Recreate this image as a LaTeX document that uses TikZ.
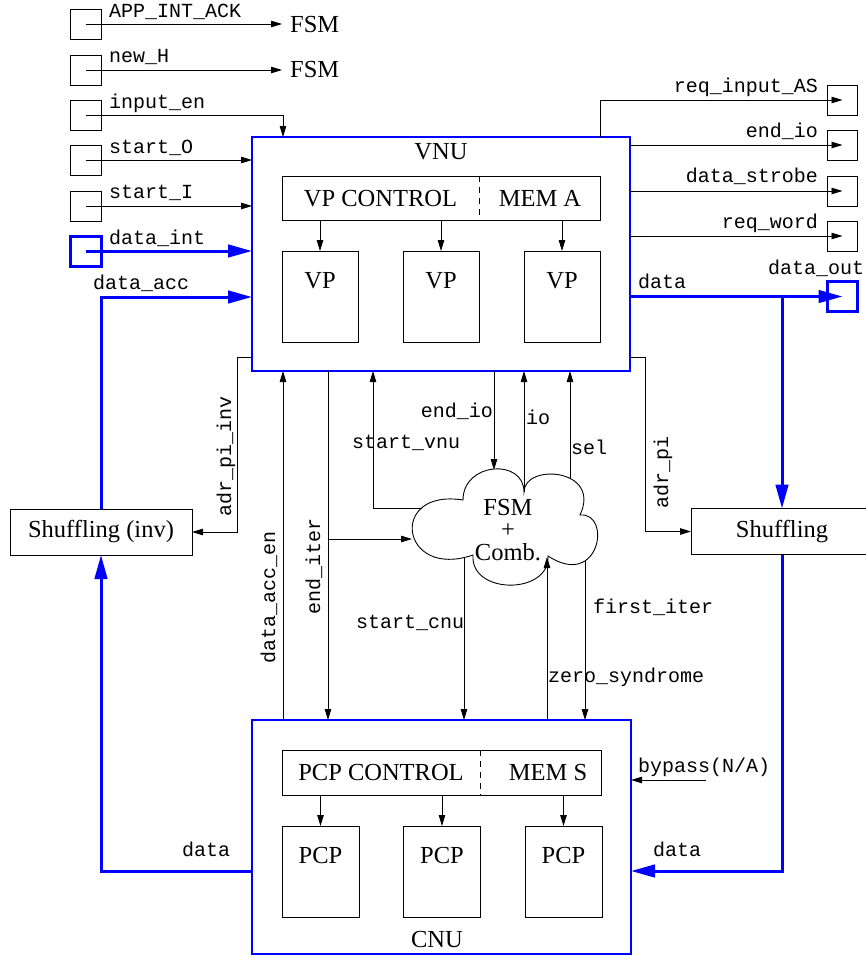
\documentclass[tikz,border=0pt]{standalone}
\usepackage{fontspec}
\setmainfont{Liberation Serif}
\setmonofont{Liberation Mono}
\usetikzlibrary{arrows.meta,calc}
\definecolor{sigblue}{RGB}{0,0,255}
\begin{document}
\begin{tikzpicture}[x=1pt,y=1pt,
  box/.style={draw=black, line width=0.9pt, inner sep=0pt, outer sep=0pt},
  unit/.style={draw=sigblue, line width=1.2pt, inner sep=0pt, outer sep=0pt},
  port/.style={draw=black, line width=1pt, minimum width=31pt, minimum height=30pt, inner sep=0pt, outer sep=0pt},
  rport/.style={port, minimum width=30pt},
  bport/.style={draw=sigblue, line width=3pt, minimum width=31pt, minimum height=30pt, inner sep=0pt, outer sep=0pt},
  sig/.style={line width=0.9pt, -{Triangle[length=11pt,width=6.5pt]}},
  wire/.style={line width=0.9pt},
  bus/.style={draw=sigblue, line width=3pt, -{Triangle[length=24pt,width=12.5pt]}},
  lbl/.style={font=\fontsize{20}{22}\selectfont\ttfamily, inner sep=0pt},
  big/.style={font=\fontsize{24.5}{26}\selectfont, inner sep=0pt},
  divider/.style={line width=0.9pt, dash pattern=on 6pt off 5pt},
]
\useasboundingbox (0,0) rectangle (865,-956);

% ---------- left ports ----------
\node[port] (pAck) at (85.5,-24) {};
\node[port] (pNH) at (85.5,-70) {};
\node[port] (pIE) at (85.5,-115) {};
\node[port] (pSO) at (85.5,-160) {};
\node[port] (pSI) at (85.5,-206) {};
\node[bport] (pDI) at (85.5,-251) {};

\node[big, anchor=base west] (fsmA) at (290,-32) {FSM};
\node[big, anchor=base west] (fsmB) at (290,-77) {FSM};

% ---------- right ports ----------
\node[rport] (pRIA) at (842.5,-100) {};
\node[rport] (pEIO) at (842.5,-145) {};
\node[rport] (pDS) at (842.5,-191) {};
\node[rport] (pRW) at (842.5,-236) {};
\node[bport, minimum width=30pt] (pDO) at (842.5,-296.5) {};

% ---------- VNU ----------
\node[unit, minimum width=378pt, minimum height=234pt, anchor=north west] (vnu) at (252,-137) {};
\node[big, anchor=base] (vnuL) at (441,-159) {VNU};
\node[box, minimum width=318pt, minimum height=44pt, anchor=north west] (vpc) at (282,-176) {};
\coordinate (vdiv) at (479,-176);
\draw[divider] (vdiv) -- (vdiv |- vpc.south);
\node[big, anchor=base] (vpcL) at (380.5,-206) {VP CONTROL};
\node[big, anchor=base] (memA) at (540,-206) {MEM A};
\foreach \i/\x in {1/320,2/441,3/562}{
  \node[box, minimum width=76pt, minimum height=91pt, anchor=north] (vp\i) at (\x,-251) {};
  \node[big, anchor=base] (vpL\i) at (\x,-288) {VP};
  \draw[sig] (vpc.south -| vp\i.north) -- (vp\i.north);
}

% ---------- CNU ----------
\node[unit, minimum width=379pt, minimum height=234pt, anchor=north west] (cnu) at (252,-720) {};
\node[big, anchor=base] (cnuL) at (437,-947) {CNU};
\node[box, minimum width=319pt, minimum height=45pt, anchor=north west] (pcc) at (282,-750) {};
\coordinate (cdiv) at (480,-750);
\draw[divider] (cdiv) -- (cdiv |- pcc.south);
\node[big, anchor=base] (pccL) at (381,-780) {PCP CONTROL};
\node[big, anchor=base] (memS) at (548,-780) {MEM S};
\foreach \i/\x in {1/320.5,2/442,3/563.5}{
  \node[box, minimum width=77pt, minimum height=91pt, anchor=north] (pcp\i) at (\x,-826) {};
  \node[big, anchor=base] (pcpL\i) at (\x,-863) {PCP};
  \draw[sig] (pcc.south -| pcp\i.north) -- (pcp\i.north);
}

% ---------- shuffling boxes ----------
\node[box, big, minimum width=182pt, minimum height=46pt] (shinv) at (101,-532) {Shuffling (inv)};
\node[box, big, minimum width=182pt, minimum height=46pt] (sh) at (782,-531.5) {Shuffling};

% ---------- cloud ----------
\draw[wire] (463,-500) .. controls (463,-462) and (524,-458) .. (524,-492)
  .. controls (524,-463) and (602,-468) .. (580,-515)
  .. controls (612,-512) and (600,-590) .. (548,-556)
  .. controls (550,-595) and (470,-595) .. (473,-555)
  .. controls (400,-580) and (388,-488) .. (463,-500) -- cycle;
\node[big, align=center, font=\fontsize{24.5}{22.5}\selectfont] (fsmT) at (508,-530) {FSM\\+\\Comb.};

% ---------- helper coordinates ----------
\coordinate (xDAE) at (283,0);
\coordinate (xEIT) at (328,0);
\coordinate (xSV) at (373,0);
\coordinate (xIE) at (283,0);
\coordinate (xRIA) at (600,0);
\coordinate (xBUS) at (782,0);
\coordinate (xAPI) at (645,0);
\coordinate (xAPII) at (237,0);
\coordinate (yDA) at (0,-297);
\coordinate (yAP) at (0,-357);
\coordinate (yDC) at (0,-871);
\coordinate (cEIO) at (494,-470);
\coordinate (cIO) at (524,-492);
\coordinate (cSEL) at (570,-478);
\coordinate (cSV) at (422,-508);
\coordinate (cEIT) at (412,-539);
\coordinate (cSC) at (464,-558);
\coordinate (cZS) at (547,-557);
\coordinate (cFI) at (585,-561);
\coordinate (bpS) at (706,-780);

% ---------- left signals ----------
\draw[sig, shorten >=8pt] (pAck.center) -- (pAck.center -| fsmA.west);
\draw[sig, shorten >=8pt] (pNH.center) -- (pNH.center -| fsmB.west);
\draw[sig] (pIE.center) -| (vnu.north -| xIE);
\draw[sig] (pSO.center) -- (pSO.center -| vnu.west);
\draw[sig] (pSI.center) -- (pSI.center -| vnu.west);
\draw[bus] (pDI.center) -- (pDI.center -| vnu.west);
\draw[bus] (shinv.north) |- (vnu.west |- yDA);
\draw[sig] (vnu.west |- yAP) -| (xAPII |- shinv.east) -- (shinv.east);
\draw[bus] (cnu.west |- yDC) -| (shinv.south);

% ---------- right signals ----------
\draw[sig] (vnu.north -| xRIA) |- (pRIA.center);
\draw[sig] (vnu.east |- pEIO.center) -- (pEIO.center);
\draw[sig] (vnu.east |- pDS.center) -- (pDS.center);
\draw[sig] (vnu.east |- pRW.center) -- (pRW.center);
\draw[bus] (vnu.east |- pDO.center) -- (pDO.center);
\draw[bus] (xBUS |- pDO.center) -- (sh.north);
\draw[sig] (vnu.east |- yAP) -| (xAPI |- sh.west) -- (sh.west);
\draw[bus] (sh.south) |- (cnu.east |- yDC);
\draw[sig] (bpS) -- (cnu.east |- bpS);

% ---------- middle signals ----------
\draw[sig] (cnu.north -| xDAE) -- (vnu.south -| xDAE);
\draw[sig] (vnu.south -| xEIT) -- (cnu.north -| xEIT);
\draw[sig] (xEIT |- cEIT) -- (cEIT);
\draw[sig] (cSV) -| (vnu.south -| xSV);
\draw[sig] (vnu.south -| cEIO) -- (cEIO);
\draw[sig] (cIO) -- (vnu.south -| cIO);
\draw[sig] (cSEL) -- (vnu.south -| cSEL);
\draw[sig] (cSC) -- (cnu.north -| cSC);
\draw[sig] (cnu.north -| cZS) -- (cZS);
\draw[sig] (cFI) -- (cnu.north -| cFI);

% ---------- labels ----------
\node[lbl, anchor=base west] (lAck) at (109,-17) {APP\_INT\_ACK};
\node[lbl, anchor=base west] (lNH) at (109,-62) {new\_H};
\node[lbl, anchor=base west] (lIE) at (109,-108) {input\_en};
\node[lbl, anchor=base west] (lSO) at (109,-153) {start\_O};
\node[lbl, anchor=base west] (lSI) at (109,-198) {start\_I};
\node[lbl, anchor=base west] (lDI) at (109,-244) {data\_int};
\node[lbl, anchor=base west] (lDA) at (93,-289) {data\_acc};
\node[lbl, anchor=base east] (lRIA) at (818,-92) {req\_input\_AS};
\node[lbl, anchor=base east] (lEIOr) at (818,-137) {end\_io};
\node[lbl, anchor=base east] (lDS) at (818,-182) {data\_strobe};
\node[lbl, anchor=base east] (lRW) at (818,-228) {req\_word};
\node[lbl, anchor=base west] (lDO) at (768,-274) {data\_out};
\node[lbl, anchor=base west] (lDv) at (638,-288) {data};
\node[lbl, anchor=base east] (lEIO) at (493,-417) {end\_io};
\node[lbl, anchor=base west] (lIO) at (526,-424) {io};
\node[lbl, anchor=base west] (lSV) at (352,-448) {start\_vnu};
\node[lbl, anchor=base west] (lSEL) at (571,-454) {sel};
\node[lbl, anchor=base west] (lSC) at (356,-628) {start\_cnu};
\node[lbl, anchor=base west] (lFI) at (593,-613) {first\_iter};
\node[lbl, anchor=base west] (lZS) at (548,-682) {zero\_syndrome};
\node[lbl, anchor=base west] (lBP) at (638,-772) {bypass(N/A)};
\node[lbl, anchor=base west] (lDcr) at (653,-856) {data};
\node[lbl, anchor=base west] (lDcl) at (182,-856) {data};
\node[lbl, rotate=90, anchor=base] (lAPI) at (231,-456) {adr\_pi\_inv};
\node[lbl, rotate=90, anchor=base] (lAP) at (668,-472) {adr\_pi};
\node[lbl, rotate=90, anchor=base] (lDAE) at (275,-597) {data\_acc\_en};
\node[lbl, rotate=90, anchor=base] (lEIT) at (320,-566) {end\_iter};
\end{tikzpicture}
\end{document}
